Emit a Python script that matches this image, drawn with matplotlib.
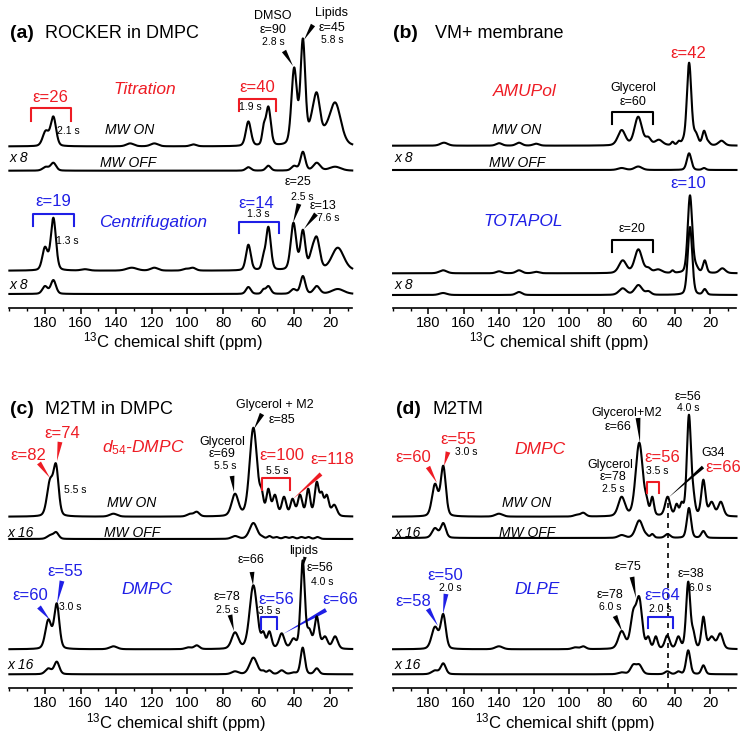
import numpy as np
import matplotlib
matplotlib.use("Agg")
import matplotlib.pyplot as plt
import matplotlib.transforms as mtransforms
from matplotlib.ticker import MultipleLocator

plt.rcParams['font.family'] = ['Liberation Sans', 'DejaVu Sans']
plt.rcParams['mathtext.fontset'] = 'custom'
plt.rcParams['mathtext.rm'] = 'Liberation Sans'
plt.rcParams['mathtext.it'] = 'Liberation Sans:italic'

# ---------------- data: peak lists (ppm, observed height in px above baseline, FWHM ppm) -------------
# (a) ROCKER in DMPC - Titration
a1_on_pos = [179.6, 175.3, 132.2, 118.6, 96.7, 65.8, 57.2, 54.6, 40.1, 35.2, 30.5, 27.4, 22.5, 17.1]
a1_on_h   = [16, 30, 3, 3, 2, 25, 23, 40, 79, 108, 32, 54, 22, 44]
a1_on_w   = [4.0, 3.6, 5, 5, 4, 3.4, 2.2, 3.2, 3.6, 3.2, 4, 4.5, 5, 7.5]
a1_off_pos = [179.6, 175.3, 65.8, 54.6, 40.1, 35.2, 27.4, 17.1]
a1_off_h   = [4, 8, 3.5, 5, 5, 19, 8, 4]
a1_off_w   = [4.0, 3.6, 3.4, 3.2, 3.6, 3.2, 4.5, 7.5]
# (a) Centrifugation
a2_on_pos = [180.0, 175.3, 157.5, 131.3, 118.6, 101.0, 97.0, 65.8, 57.4, 54.6, 40.5, 35.2, 30.2, 27.4, 15.6]
a2_on_h   = [24, 53, 1.5, 3, 3, 2, 3, 26, 17, 44, 48, 41, 23, 34, 23]
a2_on_w   = [3.5, 3.4, 5, 7, 5, 4, 4, 3.2, 2.2, 3.2, 3.6, 3.2, 3.5, 4, 8]
a2_off_pos = [180.0, 175.3, 65.8, 57.4, 54.6, 40.5, 35.2, 27.4, 15.6]
a2_off_h   = [8, 14, 7, 5, 8, 5, 18, 8, 5]
a2_off_w   = [3.5, 3.4, 3.2, 2.2, 3.2, 3.6, 3.2, 4, 8]
# (b) VM+ membrane - AMUPol
b1_on_pos = [171.1, 139.8, 128.5, 118.8, 70.2, 60.8, 55.1, 49.1, 41.3, 37.7, 35.3, 31.9, 28.1, 23.4, 21.1, 13.5]
b1_on_h   = [3, 2.5, 3, 2, 15.7, 29, 9, 6, 4, 5, 8, 83, 14, 15, 5, 5]
b1_on_w   = [5, 4, 4, 4, 5, 5, 3.5, 5, 1.8, 2, 2, 3.0, 3, 2.4, 2.5, 4]
b1_off_pos = [70.2, 60.8, 31.9, 23.4]
b1_off_h   = [2, 3.5, 16.7, 2]
b1_off_w   = [5, 5, 3.0, 2.4]
# (b) TOTAPOL
b2_on_pos = [171.6, 139.8, 128.5, 118.8, 69.6, 60.7, 55.0, 49.5, 41.3, 31.4, 28.0, 23.0, 13.0]
b2_on_h   = [3, 2, 3, 1.5, 13, 24, 6, 4, 3, 78, 10, 13, 5]
b2_on_w   = [5, 4, 4, 4, 5, 5, 3.5, 5, 1.8, 3.0, 3, 2.4, 4]
b2_off_pos = [171.6, 128.5, 69.6, 60.7, 55.0, 31.4, 23.0]
b2_off_h   = [2, 3, 6.7, 10, 4, 68, 6]
b2_off_w   = [5, 4, 5, 5, 3.5, 3.0, 2.4]
# (c) M2TM in DMPC - d54-DMPC
c1_on_pos = [177.2, 173.8, 141.6, 98.6, 94.8, 73.3, 63.0, 58.3, 54.6, 50.9, 45.8, 41.0, 36.8, 32.2, 27.4, 24.6, 21.8, 17.6]
c1_on_h   = [38, 53, 3, 3, 5, 23, 89, 28, 28, 22, 20, 18, 22, 28, 35, 25, 22, 12]
c1_on_w   = [4, 3.4, 5, 4, 3.5, 4.5, 5.0, 2.4, 2.6, 3, 3, 2.8, 3, 2.6, 2.8, 2.4, 2.8, 3.5]
c1_off_pos = [177.2, 173.8, 73.3, 63.0, 58.0, 54.0, 50.0, 45.0, 41.0, 36.0, 32.0, 27.0]
c1_off_h   = [4, 7, 3, 16, 3, 3, 2, 2, 2, 2, 2, 2]
c1_off_w   = [4, 3.4, 4.5, 5.0, 2.4, 2.6, 3, 3, 2.8, 3, 2.6, 2.8]
# (c) DMPC
c2_on_pos = [178.1, 173.4, 141.6, 99.5, 94.8, 73.3, 63.0, 57.4, 54.0, 47.1, 40.5, 35.3, 31.6, 27.4, 22.8, 17.1]
c2_on_h   = [30, 46, 3, 2, 4, 17, 64, 18, 18, 16, 11, 89, 21, 33, 13, 13]
c2_on_w   = [4, 3.4, 5, 4, 3.5, 4.5, 5.0, 2.4, 2.8, 3.5, 3.5, 2.8, 3, 3, 3.5, 3.5]
c2_off_pos = [178.1, 173.4, 73.3, 63.0, 57.4, 54.0, 47.1, 40.5, 35.3, 27.4]
c2_off_h   = [6, 12.7, 3, 16.7, 4, 4, 4, 2, 26.7, 6]
c2_off_w   = [4, 3.4, 4.5, 5.0, 2.4, 2.8, 3.5, 3.5, 2.8, 3]
# (d) M2TM - DMPC
d1_on_pos = [176.2, 171.5, 139.9, 95.7, 92.0, 70.2, 60.2, 56.0, 52.8, 44.1, 39.0, 36.1, 32.0, 29.5, 23.8, 19.1, 13.9]
d1_on_h   = [33, 51, 3, 2, 4, 20, 74, 21, 20, 20, 13, 15, 102, 30, 37, 15, 15]
d1_on_w   = [4, 3.4, 5, 4, 3.5, 4.5, 4.8, 2.2, 2.2, 3.4, 2.2, 2.2, 2.8, 2.4, 2.8, 3.5, 3.5]
d1_off_pos = [176.2, 171.5, 70.2, 60.2, 56.0, 52.8, 44.1, 32.0, 23.8]
d1_off_h   = [10, 15, 3, 17.6, 4, 4, 4, 30, 7]
d1_off_w   = [4, 3.4, 4.5, 4.8, 2.2, 2.2, 3.4, 2.8, 2.8]
# (d) DLPE
d2_on_pos = [176.2, 171.5, 139.9, 96.6, 92.0, 70.2, 63.6, 60.2, 55.1, 50.8, 44.3, 38.0, 32.4, 29.5, 23.8, 19.1, 14.2]
d2_on_h   = [22.7, 35.3, 3, 2, 3, 18.3, 40, 52.7, 13, 13, 14, 13, 67.7, 20, 32.7, 13, 16]
d2_on_w   = [4.5, 3.4, 5, 4, 3.5, 4.5, 3.8, 3.8, 2.4, 2.4, 3.2, 2.8, 2.8, 2.4, 2.6, 4, 3.5]
d2_off_pos = [176.2, 171.5, 70.2, 63.6, 60.2, 44.3, 38.0, 32.4, 23.8]
d2_off_h   = [4, 11, 2, 10, 10, 3, 3, 24, 9]
d2_off_w   = [4.5, 3.4, 4.5, 3.8, 3.8, 3.2, 2.8, 2.8, 2.6]

tick_major = [20, 40, 60, 80, 100, 120, 140, 160, 180]
xlabel = r'$^{13}$C chemical shift (ppm)'

# ---------------- figure ----------------
W, H = 751, 741
fig = plt.figure(figsize=(W / 100, H / 100), dpi=100)
PX = mtransforms.Affine2D().scale(1 / W, -1 / H).translate(0, 1) + fig.transFigure

RED = '#ee1c24'
BLUE = '#1f1fe6'
ETA = 0.25


def shape(x, p, fw):
    d = (x - p) / (fw / 2.0)
    return ETA / (1 + d ** 2) + (1 - ETA) * np.exp(-np.log(2) * d ** 2)


def amplitudes(pos, h, w):
    # find non-negative amplitudes so that the summed line reaches the observed heights
    pos = np.asarray(pos, float); h = np.asarray(h, float); w = np.asarray(w, float)
    M = np.array([[shape(pi, pj, wj) for pj, wj in zip(pos, w)] for pi in pos])
    a = h.copy()
    for _ in range(400):
        for i in range(len(a)):
            r = h[i] - M[i] @ a
            a[i] = max(0.0, a[i] + r / M[i, i])
    return a


def spectrum(x, pos, h, w):
    a = amplitudes(pos, h, w)
    y = np.zeros_like(x)
    for p, ai, fw in zip(pos, a, w):
        y += ai * shape(x, p, fw)
    return y


def make_axes(axis_y_px, top_px, ppm180_px, px_per_ppm, xl, xr):
    left = ppm180_px - (xl - 180) * px_per_ppm
    width = (xl - xr) * px_per_ppm
    height = axis_y_px - top_px
    ax = fig.add_axes([left / W, 1 - axis_y_px / H, width / W, height / H])
    ax.set_xlim(xl, xr)
    ax.set_ylim(0, height)
    for s in ['left', 'right', 'top']:
        ax.spines[s].set_visible(False)
    ax.spines['bottom'].set_linewidth(1.2)
    ax.set_yticks([])
    ax.set_xticks(tick_major)
    ax.xaxis.set_minor_locator(MultipleLocator(10))
    ax.tick_params(axis='x', which='major', length=4, width=1.1, pad=2, labelsize=10.5)
    ax.tick_params(axis='x', which='minor', length=2.5, width=1.0)
    ax.patch.set_alpha(0)
    return ax


def trace(ax, pos, h, w, base, xl, xr):
    x = np.linspace(xl, xr, 2500)
    ax.plot(x, base + spectrum(x, pos, h, w), color='k', lw=1.5, clip_on=False,
            solid_joinstyle='round')


def T(x, y, s, size=9, color='k', ha='center', style='normal', weight='normal'):
    fig.text(x, y, s, transform=PX, ha=ha, va='center', fontsize=size, color=color,
             style=style, fontweight=weight)


def bracket(x1, x2, ytop, ybot, color):
    fig.add_artist(plt.Line2D([x1, x1, x2, x2], [ybot, ytop, ytop, ybot], transform=PX,
                              color=color, lw=1.5))


def wedge(x1, y1, x2, y2, color='k', tw=0.35):
    fig.axes[0].annotate('', xy=(x2, y2), xycoords=PX, xytext=(x1, y1), textcoords=PX,
                         arrowprops=dict(arrowstyle='wedge,tail_width=%g,shrink_factor=0.5' % tw,
                                         fc=color, ec='none', shrinkA=0, shrinkB=0),
                         annotation_clip=False)


# panel a
axa = make_axes(307.7, 5, 45.0, 1.781, 200, 7.5)
trace(axa, a1_on_pos, a1_on_h, a1_on_w, 161.3, 200, 7.5)
trace(axa, a1_off_pos, a1_off_h, a1_off_w, 137.0, 200, 7.5)
trace(axa, a2_on_pos, a2_on_h, a2_on_w, 37.0, 200, 7.5)
trace(axa, a2_off_pos, a2_off_h, a2_off_w, 13.7, 200, 7.5)
# panel b
axb = make_axes(308.0, 5, 428.3, 1.761, 200, 5)
trace(axb, b1_on_pos, b1_on_h, b1_on_w, 162.3, 200, 5)
trace(axb, b1_off_pos, b1_off_h, b1_off_w, 138.0, 200, 5)
trace(axb, b2_on_pos, b2_on_h, b2_on_w, 34.7, 200, 5)
trace(axb, b2_off_pos, b2_off_h, b2_off_w, 13.0, 200, 5)
# panel c
axc = make_axes(687.7, 375, 45.0, 1.781, 200, 7.5)
trace(axc, c1_on_pos, c1_on_h, c1_on_w, 171.0, 200, 7.5)
trace(axc, c1_off_pos, c1_off_h, c1_off_w, 148.7, 200, 7.5)
trace(axc, c2_on_pos, c2_on_h, c2_on_w, 38.4, 200, 7.5)
trace(axc, c2_off_pos, c2_off_h, c2_off_w, 13.4, 200, 7.5)
# panel d
axd = make_axes(688.0, 375, 428.3, 1.761, 200, 5)
trace(axd, d1_on_pos, d1_on_h, d1_on_w, 171.3, 200, 5)
trace(axd, d1_off_pos, d1_off_h, d1_off_w, 150.0, 200, 5)
trace(axd, d2_on_pos, d2_on_h, d2_on_w, 38.7, 200, 5)
trace(axd, d2_off_pos, d2_off_h, d2_off_w, 13.7, 200, 5)
axd.plot([43.7, 43.7], [0, 188], color='k', lw=1.2, ls=(0, (3, 3)), clip_on=False)

# axis labels
T(173, 342, xlabel, size=12)
T(559, 342, xlabel, size=12)
T(176, 723, xlabel, size=12)
T(565, 723, xlabel, size=12)

SM, TM, BG, MW = 9, 7.5, 12, 10
# ---- panel a texts
T(22, 33, '(a)', size=14, weight='bold')
T(45, 33, 'ROCKER in DMPC', size=13, ha='left')
T(145, 90, 'Titration', size=12.5, color=RED, style='italic')
T(50, 98, 'ε=26', size=BG, color=RED)
T(68, 131, '2.1 s', size=TM)
T(257, 88, 'ε=40', size=BG, color=RED)
T(250, 107, '1.9 s', size=TM)
T(130, 130, 'MW ON', size=MW, style='italic')
T(10, 158, 'x 8', size=MW, style='italic', ha='left')
T(128, 163, 'MW OFF', size=MW, style='italic')
T(273, 16, 'DMSO', size=SM); T(273, 30, 'ε=90', size=SM); T(273, 42, '2.8 s', size=TM)
T(332, 13, 'Lipids', size=SM); T(332, 28, 'ε=45', size=SM); T(332, 40, '5.8 s', size=TM)
T(298, 182, 'ε=25', size=SM); T(302, 197, '2.5 s', size=TM)
T(323, 206, 'ε=13', size=SM); T(328, 218, '7.6 s', size=TM)
T(53, 202, 'ε=19', size=BG, color=BLUE)
T(67, 241, '1.3 s', size=TM)
T(153, 222, 'Centrifugation', size=12.5, color=BLUE, style='italic')
T(256, 203, 'ε=14', size=BG, color=BLUE)
T(258, 214, '1.3 s', size=TM)
T(10, 285, 'x 8', size=MW, style='italic', ha='left')
bracket(31, 71, 108, 121, RED)
bracket(239, 276, 99, 111, RED)
bracket(33, 74, 214, 226, BLUE)
bracket(239, 279, 222, 233, BLUE)
wedge(284, 51, 293, 66)
wedge(313, 25, 304, 40)
wedge(299, 204, 293, 223)
wedge(316, 214, 304, 229)

# ---- panel b texts
T(405, 33, '(b)', size=14, weight='bold')
T(435, 33, 'VM+ membrane', size=13, ha='left')
T(525, 91, 'AMUPol', size=12.5, color=RED, style='italic')
T(688, 53, 'ε=42', size=BG, color=RED)
T(633, 88, 'Glycerol', size=SM); T(633, 102, 'ε=60', size=SM)
bracket(612, 653, 112, 124, 'k')
T(517, 130, 'MW ON', size=MW, style='italic')
T(395, 158, 'x 8', size=MW, style='italic', ha='left')
T(517, 163, 'MW OFF', size=MW, style='italic')
T(688, 184, 'ε=10', size=BG, color=BLUE)
T(523, 222, 'TOTAPOL', size=12.5, color=BLUE, style='italic')
T(632, 229, 'ε=20', size=SM)
bracket(612, 653, 240, 252, 'k')
T(395, 285, 'x 8', size=MW, style='italic', ha='left')

# ---- panel c texts
T(22, 410, '(c)', size=14, weight='bold')
T(45, 410, 'M2TM in DMPC', size=13, ha='left')
T(28, 455, 'ε=82', size=BG, color=RED)
T(62, 433, 'ε=74', size=BG, color=RED)
wedge(39, 463, 50, 478, RED)
wedge(60, 442, 57, 461, RED)
T(143, 448, r'$\mathit{d}_{\mathit{54}}$-DMPC', size=12.5, color=RED, style='italic')
T(75, 490, '5.5 s', size=TM)
T(132, 503, 'MW ON', size=MW, style='italic')
T(8, 533, 'x 16', size=MW, style='italic', ha='left')
T(132, 533, 'MW OFF', size=MW, style='italic')
T(275, 405, 'Glycerol + M2', size=SM); T(282, 420, 'ε=85', size=SM)
wedge(262, 414, 254, 429)
T(222, 442, 'Glycerol', size=SM); T(222, 454, 'ε=69', size=SM); T(225, 466, '5.5 s', size=TM)
wedge(232, 476, 234, 492)
T(282, 456, 'ε=100', size=BG, color=RED)
bracket(262, 290, 478, 490, RED)
T(277, 471, '5.5 s', size=TM)
T(332, 460, 'ε=118', size=BG, color=RED)
wedge(321, 474, 293, 499, RED, tw=0.3)
T(251, 560, 'ε=66', size=SM)
wedge(252, 572, 253, 585)
T(304, 551, 'lipids', size=SM)
wedge(305, 557, 303, 567, tw=0.25)
T(320, 568, 'ε=56', size=SM); T(322, 582, '4.0 s', size=TM)
T(147, 590, 'DMPC', size=12.5, color=BLUE, style='italic')
T(30, 595, 'ε=60', size=BG, color=BLUE)
T(65, 572, 'ε=55', size=BG, color=BLUE)
T(70, 607, '3.0 s', size=TM)
wedge(39, 607, 50, 620, BLUE)
wedge(62, 581, 57, 604, BLUE)
T(227, 597, 'ε=78', size=SM); T(227, 610, '2.5 s', size=TM)
wedge(230, 615, 234, 631)
T(276, 599, 'ε=56', size=BG, color=BLUE)
bracket(261, 277, 617, 629, BLUE)
T(269, 611, '3.5 s', size=TM)
T(340, 600, 'ε=66', size=BG, color=BLUE)
wedge(326, 610, 283, 634, BLUE, tw=0.3)
T(8, 665, 'x 16', size=MW, style='italic', ha='left')

# ---- panel d texts
T(408, 410, '(d)', size=14, weight='bold')
T(433, 410, 'M2TM', size=13, ha='left')
T(413, 458, 'ε=60', size=BG, color=RED)
T(458, 440, 'ε=55', size=BG, color=RED)
T(466, 452, '3.0 s', size=TM)
wedge(428, 467, 437, 483, RED)
wedge(448, 452, 444, 466, RED)
T(540, 450, 'DMPC', size=12.5, color=RED, style='italic')
T(527, 503, 'MW ON', size=MW, style='italic')
T(395, 533, 'x 16', size=MW, style='italic', ha='left')
T(527, 533, 'MW OFF', size=MW, style='italic')
T(627, 413, 'Glycerol+M2', size=SM); T(618, 427, 'ε=66', size=SM)
wedge(638, 418, 640, 443)
T(610, 465, 'Glycerol', size=SM); T(613, 477, 'ε=78', size=SM); T(613, 489, '2.5 s', size=TM)
T(662, 458, 'ε=56', size=BG, color=RED)
T(657, 471, '3.5 s', size=TM)
bracket(647, 659, 482, 493, RED)
T(688, 397, 'ε=56', size=SM); T(688, 408, '4.0 s', size=TM)
T(713, 453, 'G34', size=SM)
T(723, 468, 'ε=66', size=BG, color=RED)
wedge(703, 467, 668, 498, tw=0.25)
T(537, 590, 'DLPE', size=12.5, color=BLUE, style='italic')
T(413, 602, 'ε=58', size=BG, color=BLUE)
T(445, 575, 'ε=50', size=BG, color=BLUE)
T(450, 588, '2.0 s', size=TM)
wedge(428, 609, 438, 626, BLUE)
wedge(446, 594, 443, 614, BLUE)
T(610, 595, 'ε=78', size=SM); T(610, 607, '6.0 s', size=TM)
wedge(615, 616, 622, 631)
T(628, 567, 'ε=75', size=SM)
wedge(632, 577, 636, 598)
T(662, 595, 'ε=64', size=BG, color=BLUE)
T(660, 609, '2.0 s', size=TM)
bracket(648, 673, 617, 628, BLUE)
T(691, 574, 'ε=38', size=SM); T(700, 588, '6.0 s', size=TM)
T(395, 665, 'x 16', size=MW, style='italic', ha='left')

fig.savefig('out.png', dpi=100)
